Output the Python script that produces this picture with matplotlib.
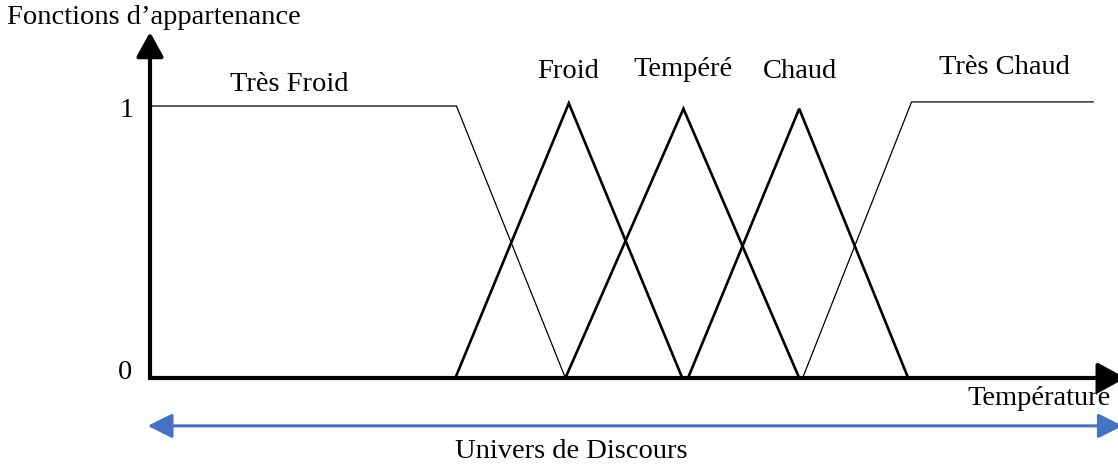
import matplotlib.pyplot as plt

# Membership functions (temperature in arbitrary units, membership 0..1)
tf_x = [0.2, 27.0, 36.6]
tf_y = [1.0, 1.0, 0.0]
froid_x = [26.9, 36.9, 46.9]
froid_y = [0.0, 1.01, 0.0]
tempere_x = [36.6, 47.0, 57.2]
tempere_y = [0.0, 0.99, 0.0]
chaud_x = [47.4, 57.2, 66.8]
chaud_y = [0.0, 0.99, 0.0]
tc_x = [57.5, 67.1, 83.1]
tc_y = [0.0, 1.015, 1.015]

labels = ['Très Froid', 'Froid', 'Tempéré', 'Chaud', 'Très Chaud']
label_x = [12.3, 36.8, 47.0, 57.3, 75.3]
label_y = [1.08, 1.125, 1.135, 1.125, 1.14]

plt.rcParams['font.family'] = ['Liberation Serif', 'DejaVu Serif']

fig = plt.figure(figsize=(11.18, 4.66), dpi=100)
ax = fig.add_axes([0, 0, 1, 1])
sx = 11.35   # px per x unit
sy = 272.0   # px per membership unit
ax.set_xlim(-150 / sx, 968 / sx)
ax.set_ylim(-88 / sy, 378 / sy)
ax.axis('off')

# thin trapezoids, thick triangles
ax.plot(tf_x, tf_y, color='black', lw=0.9)
ax.plot(tc_x, tc_y, color='black', lw=0.9)
for xs, ys in [(froid_x, froid_y), (tempere_x, tempere_y), (chaud_x, chaud_y)]:
    ax.plot(xs, ys, color='black', lw=1.9, solid_joinstyle='miter')

# axes arrows (x arrow runs off the right edge like the original)
black_head = '-|>,head_length=1.0,head_width=0.55'
ax.annotate('', xy=(0, 1.272), xytext=(0, -0.007), annotation_clip=False,
            arrowprops=dict(arrowstyle=black_head, mutation_scale=15, capstyle='butt',
                            lw=3, color='black', shrinkA=0, shrinkB=0))
ax.annotate('', xy=(85.95, 0), xytext=(-0.12, 0), annotation_clip=False,
            arrowprops=dict(arrowstyle=black_head, mutation_scale=17, capstyle='butt',
                            lw=3, color='black', shrinkA=0, shrinkB=0))

# universe of discourse arrow
ax.annotate('', xy=(85.7, -0.176), xytext=(-0.2, -0.176), annotation_clip=False,
            arrowprops=dict(arrowstyle='<|-|>,head_length=1.0,head_width=0.5',
                            mutation_scale=15, lw=2.2, color='#4472C4',
                            shrinkA=0, shrinkB=0))

fs = 20.5
for t, x, y in zip(labels, label_x, label_y):
    ax.text(x, y, t, fontsize=fs, ha='center', va='center')

ax.text(-1.4, 0.985, '1', fontsize=fs, ha='right', va='center')
ax.text(-1.6, 0.02, '0', fontsize=fs, ha='right', va='center')
ax.text(-12.6, 1.325, 'Fonctions d\u2019appartenance', fontsize=fs, ha='left', va='center')
ax.text(84.6, -0.075, 'Température', fontsize=fs, ha='right', va='center')
ax.text(37.1, -0.27, 'Univers de Discours', fontsize=fs, ha='center', va='center')

fig.savefig('out.png', dpi=100)
